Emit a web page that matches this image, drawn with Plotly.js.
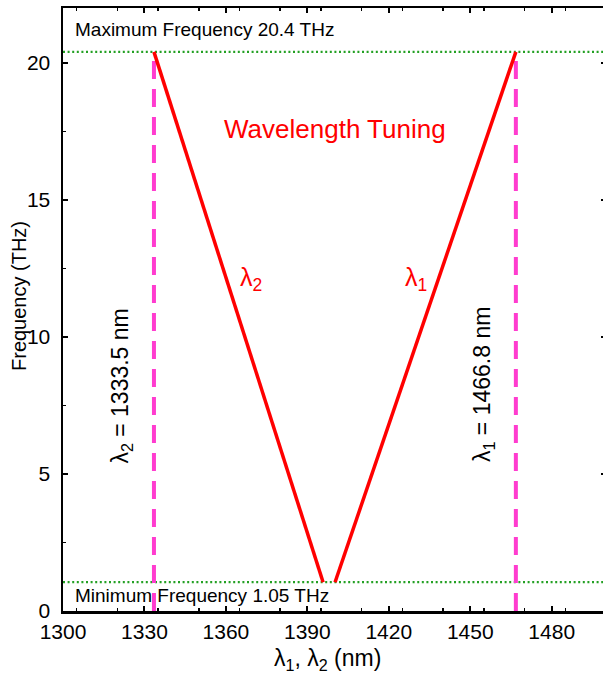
<!DOCTYPE html>
<html>
<head>
<meta charset="utf-8">
<script src="https://cdn.plot.ly/plotly-3.0.1.min.js"></script>
<style>html,body{margin:0;padding:0;background:#fff;overflow:hidden;}</style>
</head>
<body>
<div id="chart"></div>
<script>
// Data
const minFreq = 1.05;                 // THz
const maxFreq = 20.4;                 // THz
const lambda1Wl = [1400.2, 1466.8];   // nm
const lambda1Freq = [1.05, 20.4];     // THz
const lambda2Wl = [1333.5, 1395.8];   // nm
const lambda2Freq = [20.4, 1.05];     // THz
const lambda1End = 1466.8;
const lambda2End = 1333.5;
const xRange = [1300, 1500];
const yRange = [0, 22];

const font = "'Liberation Sans', Arial, Helvetica, sans-serif";
const pink = '#ff3ccf';
const green = '#23a023';

const traces = [
  {x: xRange, y: [maxFreq, maxFreq], mode: 'lines', line: {color: green, width: 2.2, dash: '2px,2.6px'}, hoverinfo: 'skip'},
  {x: xRange, y: [minFreq, minFreq], mode: 'lines', line: {color: green, width: 2.2, dash: '2px,2.6px'}, hoverinfo: 'skip'},
  {x: [lambda2End, lambda2End], y: [0, maxFreq], mode: 'lines', line: {color: pink, width: 4, dash: '18px,10px'}},
  {x: [lambda1End, lambda1End], y: [0, maxFreq], mode: 'lines', line: {color: pink, width: 4, dash: '18px,10px'}},
  {x: lambda2Wl, y: lambda2Freq, mode: 'lines', line: {color: '#ff0000', width: 3.5}},
  {x: lambda1Wl, y: lambda1Freq, mode: 'lines', line: {color: '#ff0000', width: 3.5}}
];

const axisCommon = {
  showgrid: false, zeroline: false, showline: true, linecolor: '#000', linewidth: 2.5,
  mirror: 'ticks', ticks: 'inside', ticklen: 5, tickwidth: 2, tickcolor: '#000',
  tickfont: {family: font, size: 21, color: '#000'}
};

const layout = {
  width: 620, height: 673,
  margin: {l: 63, r: 14, t: 8, b: 62},
  paper_bgcolor: '#fff', plot_bgcolor: '#fff',
  showlegend: false,
  font: {family: font, color: '#000'},
  xaxis: Object.assign({}, axisCommon, {
    range: xRange, tick0: 1300, dtick: 30,
    minor: {dtick: 15, ticks: 'inside', ticklen: 3, tickwidth: 1.5, tickcolor: '#000', showgrid: false},
    ticklabelstandoff: 0
  }),
  yaxis: Object.assign({}, axisCommon, {
    range: yRange, tick0: 0, dtick: 5,
    minor: {dtick: 2.5, ticks: 'inside', ticklen: 3, tickwidth: 1.5, tickcolor: '#000', showgrid: false},
    ticklabelstandoff: 6
  }),
  annotations: [
    {x: 327, y: 659, xref: 'paper', yref: 'paper', text: 'λ<sub>1</sub>, λ<sub>2</sub> (nm)', showarrow: false, xanchor: 'center', yanchor: 'middle', font: {family: font, size: 23, color: '#000'}},
    {x: 19, y: 296, xref: 'paper', yref: 'paper', text: 'Frequency (THz)', showarrow: false, textangle: -90, xanchor: 'center', yanchor: 'middle', font: {family: font, size: 20, color: '#000'}},
    {x: 1303.7, y: 21.2, xref: 'x', yref: 'y', text: 'Maximum Frequency 20.4 THz', showarrow: false, xanchor: 'left', yanchor: 'middle', font: {family: font, size: 19, color: '#000'}},
    {x: 1303.7, y: 0.55, xref: 'x', yref: 'y', text: 'Minimum Frequency 1.05 THz', showarrow: false, xanchor: 'left', yanchor: 'middle', font: {family: font, size: 19, color: '#000'}},
    {x: 1400.2, y: 17.6, xref: 'x', yref: 'y', text: 'Wavelength Tuning', showarrow: false, xanchor: 'center', yanchor: 'middle', font: {family: font, size: 26, color: '#ff0000'}},
    {x: 1369.2, y: 12.1, xref: 'x', yref: 'y', text: 'λ<sub>2</sub>', showarrow: false, xanchor: 'center', yanchor: 'middle', font: {family: font, size: 25, color: '#ff0000'}},
    {x: 1430.0, y: 12.1, xref: 'x', yref: 'y', text: 'λ<sub>1</sub>', showarrow: false, xanchor: 'center', yanchor: 'middle', font: {family: font, size: 25, color: '#ff0000'}},
    {x: 1321.5, y: 8.2, xref: 'x', yref: 'y', text: 'λ<sub>2</sub> = 1333.5 nm', showarrow: false, textangle: -90, xanchor: 'center', yanchor: 'middle', font: {family: font, size: 23, color: '#000'}},
    {x: 1455.1, y: 8.25, xref: 'x', yref: 'y', text: 'λ<sub>1</sub> = 1466.8 nm', showarrow: false, textangle: -90, xanchor: 'center', yanchor: 'middle', font: {family: font, size: 23, color: '#000'}}
  ]
};

// convert pixel-placed title annotations to paper coordinates
const plotW = layout.width - layout.margin.l - layout.margin.r;
const plotH = layout.height - layout.margin.t - layout.margin.b;
layout.annotations.forEach(a => {
  if (a.xref === 'paper') {
    a.x = (a.x - layout.margin.l) / plotW;
    a.y = (layout.height - layout.margin.b - a.y) / plotH;
  }
});

Plotly.newPlot('chart', traces, layout, {staticPlot: true, displayModeBar: false});
</script>
</body>
</html>
